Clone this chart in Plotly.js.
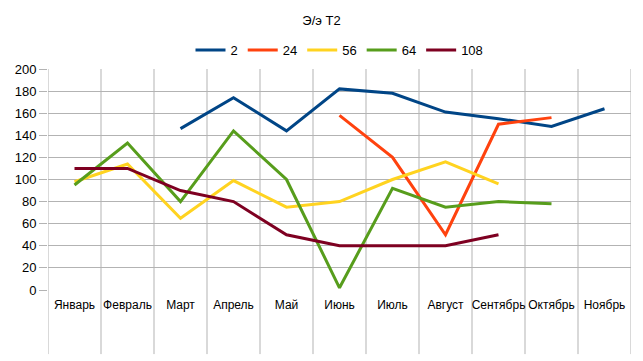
<!DOCTYPE html>
<html><head><meta charset="utf-8">
<script src="https://cdn.plot.ly/plotly-3.0.1.min.js"></script>
<style>html,body{margin:0;padding:0;background:#fff}#chart{width:643px;height:361px}</style>
</head><body><div id="chart"></div>
<script>
const months = ["Январь","Февраль","Март","Апрель","Май","Июнь","Июль","Август","Сентябрь","Октябрь","Ноябрь"];
const s2   = [null,null,146,174,144,182,178,161,155,148,164];
const s24  = [null,null,null,null,null,158,120,50,150,156,null];
const s56  = [98,114,65,99,75,80,100,116,96,null,null];
const s64  = [95,133,80,144,100,2,92,75,80,78,null];
const s108 = [110,110,90,80,50,40,40,40,50,null,null];
const seriesNames = ["2","24","56","64","108"];
const colors = ["#004586","#ff420e","#ffd320","#579d1c","#7e0021"];
const data = [s2,s24,s56,s64,s108].map((ys,i)=>({
  type:"scatter", mode:"lines", x:months, y:ys, name:seriesNames[i],
  line:{color:colors[i], width:3}, connectgaps:false
}));
// category boundary lines extending below plot (LibreOffice style)
const shapes = [];
for (let i=0;i<=months.length;i++){
  shapes.push({type:"line", xref:"x", yref:"paper", x0:i-0.5, x1:i-0.5, y0:-0.29, y1:1,
    line:{color:"#b3b3b3", width:1}, layer:"below"});
}
const layout = {
  width:643, height:361,
  margin:{l:48, r:12, t:69, b:71},
  paper_bgcolor:"#fff", plot_bgcolor:"#fff",
  font:{family:"Liberation Sans, Arial, sans-serif", size:13, color:"#000"},
  title:{text:"Э/э Т2", x:0.5, xanchor:"center", y:1-20/361, yanchor:"middle", font:{size:13}},
  showlegend:true,
  legend:{orientation:"h", x:0.5, xanchor:"center", y:1.086, yanchor:"middle", font:{size:13}, itemwidth:30, tracegroupgap:0},
  xaxis:{type:"category", range:[-0.5, months.length-0.5], showgrid:false, zeroline:false,
    showline:false, ticks:"", tickangle:0, tickfont:{size:12}, ticklabelstandoff:6, fixedrange:true},
  yaxis:{range:[0,200], dtick:20, showgrid:true, gridcolor:"#b3b3b3", gridwidth:1, zeroline:false,
    showline:false, ticks:"outside", ticklen:8, tickcolor:"#b3b3b3", tickfont:{size:13}, fixedrange:true},
  shapes:shapes
};
Plotly.newPlot("chart", data, layout, {staticPlot:true, displayModeBar:false});
</script></body></html>
